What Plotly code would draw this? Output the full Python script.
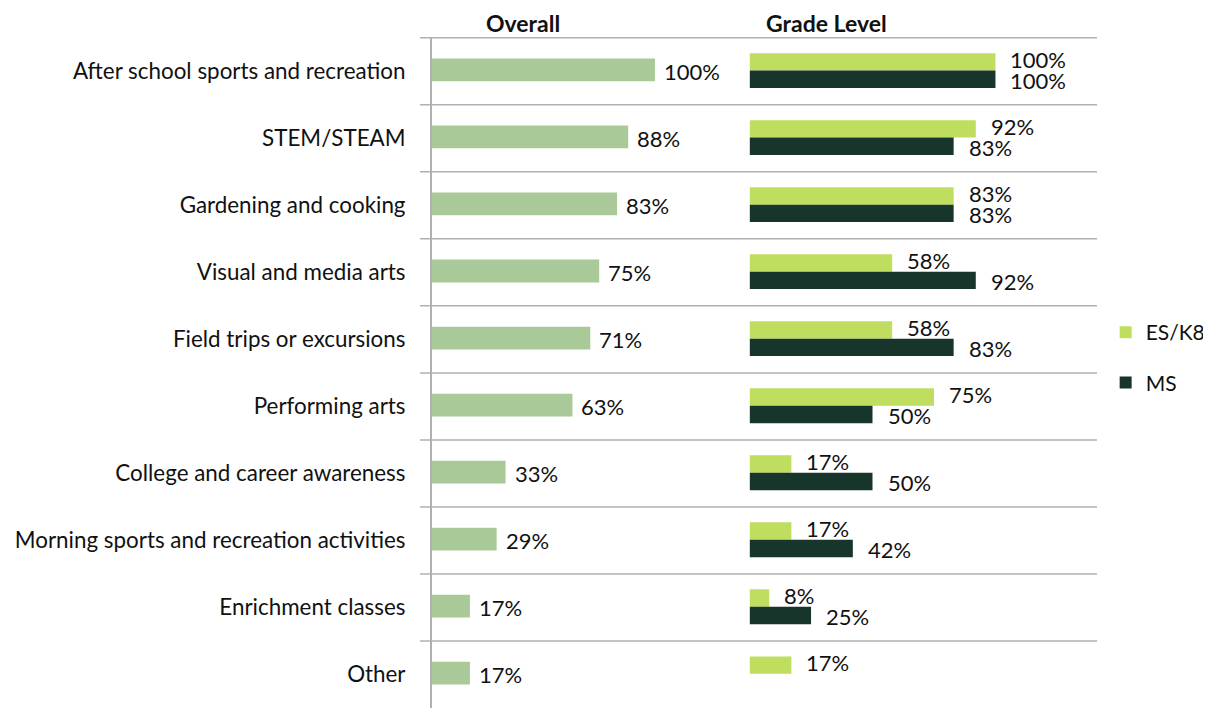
import plotly.graph_objects as go

categories = ["After school sports and recreation", "STEM/STEAM", "Gardening and cooking",
              "Visual and media arts", "Field trips or excursions", "Performing arts",
              "College and career awareness", "Morning sports and recreation activities",
              "Enrichment classes", "Other"]
overall = [100, 88, 83, 75, 71, 63, 33, 29, 17, 17]
es_k8 = [100, 92, 83, 58, 58, 75, 17, 17, 8, 17]
ms = [100, 83, 83, 92, 83, 50, 50, 42, 25, None]

FONT = "Lato, 'Source Sans Pro', sans-serif"
C_OVERALL = "#A9C998"
C_ES = "#BFDD5F"
C_MS = "#18352B"
GRID = "#B0B0B0"
TXT = "#111111"

# page has an 8px body margin; figure is sized to fit the window
W, H = 1203, 700
ML, MR, MT, MB = 424, 111, 29, 0
PW = W - ML - MR
PH = H - MT - MB

fig = go.Figure()
fig.add_trace(go.Bar(y=categories, x=overall, orientation="h", width=0.34, offset=-0.19,
                     marker=dict(color=C_OVERALL, line=dict(width=0)),
                     xaxis="x", yaxis="y", showlegend=False, hoverinfo="x+y"))
fig.add_trace(go.Bar(y=categories, x=es_k8, orientation="h", width=0.26, offset=-0.27,
                     marker=dict(color=C_ES, line=dict(width=0)), name="ES/K8",
                     legendgroup="a", xaxis="x2", yaxis="y2"))
fig.add_trace(go.Bar(y=categories, x=ms, orientation="h", width=0.26, offset=-0.01,
                     marker=dict(color=C_MS, line=dict(width=0)), name="MS",
                     legendgroup="b", xaxis="x2", yaxis="y2"))

annotations = []
for c, v in zip(categories, overall):
    annotations.append(dict(x=v, y=c, xref="x", yref="y", text=f"{v}%", showarrow=False,
                            xanchor="left", yanchor="middle", xshift=7, yshift=0,
                            font=dict(size=22, color=TXT, family=FONT)))
for c, v in zip(categories, es_k8):
    if v is None:
        continue
    annotations.append(dict(x=v, y=c, xref="x2", yref="y2", text=f"{v}%", showarrow=False,
                            xanchor="left", yanchor="middle", xshift=13, yshift=11.5,
                            font=dict(size=22, color=TXT, family=FONT)))
for c, v in zip(categories, ms):
    if v is None:
        continue
    annotations.append(dict(x=v, y=c, xref="x2", yref="y2", text=f"{v}%", showarrow=False,
                            xanchor="left", yanchor="middle", xshift=13, yshift=-9,
                            font=dict(size=22, color=TXT, family=FONT)))

annotations.append(dict(x=(523 - 432) / PW, y=1 + MT / PH,
                        xref="paper", yref="paper", text="<b>Overall</b>", showarrow=False,
                        xanchor="center", yanchor="top", borderpad=0,
                        font=dict(size=23, color=TXT, family=FONT)))
annotations.append(dict(x=(828 - 432) / PW, y=1 + MT / PH,
                        xref="paper", yref="paper", text="<b>Grade Level</b>", showarrow=False,
                        xanchor="center", yanchor="top", borderpad=0,
                        font=dict(size=23, color=TXT, family=FONT)))

shapes = []
x0 = -12 / PW
for i in range(len(categories)):
    shapes.append(dict(type="line", xref="paper", yref="y", x0=x0, x1=1,
                       y0=i - 0.5, y1=i - 0.5, line=dict(color=GRID, width=1.5)))

fig.update_layout(
    width=W, height=H,
    margin=dict(l=ML, r=MR, t=MT, b=MB, pad=0),
    paper_bgcolor="white", plot_bgcolor="white",
    barmode="overlay",
    font=dict(family=FONT, size=22, color=TXT),
    xaxis=dict(domain=[0, (735 - 432) / PW], range=[0, 135.3],
               showticklabels=False, showgrid=False, zeroline=False, showline=False),
    xaxis2=dict(domain=[(751 - 432) / PW, 1], range=[0, 141.3],
                showticklabels=False, showgrid=False, zeroline=False, showline=False),
    yaxis=dict(autorange="reversed", showline=True, linecolor=GRID, linewidth=2,
               showgrid=False, zeroline=False, ticks="", ticklabelstandoff=20,
               tickfont=dict(size=22.4, color=TXT, family=FONT)),
    yaxis2=dict(matches="y", anchor="x2", autorange="reversed", showticklabels=False,
                showline=False, showgrid=False, zeroline=False),
    legend=dict(x=1.013, y=0.59, xanchor="left", yanchor="top",
                font=dict(size=21, color=TXT, family=FONT),
                tracegroupgap=20, traceorder="grouped", bgcolor="rgba(0,0,0,0)"),
    annotations=annotations,
    shapes=shapes,
)

fig.write_html("out.html")
